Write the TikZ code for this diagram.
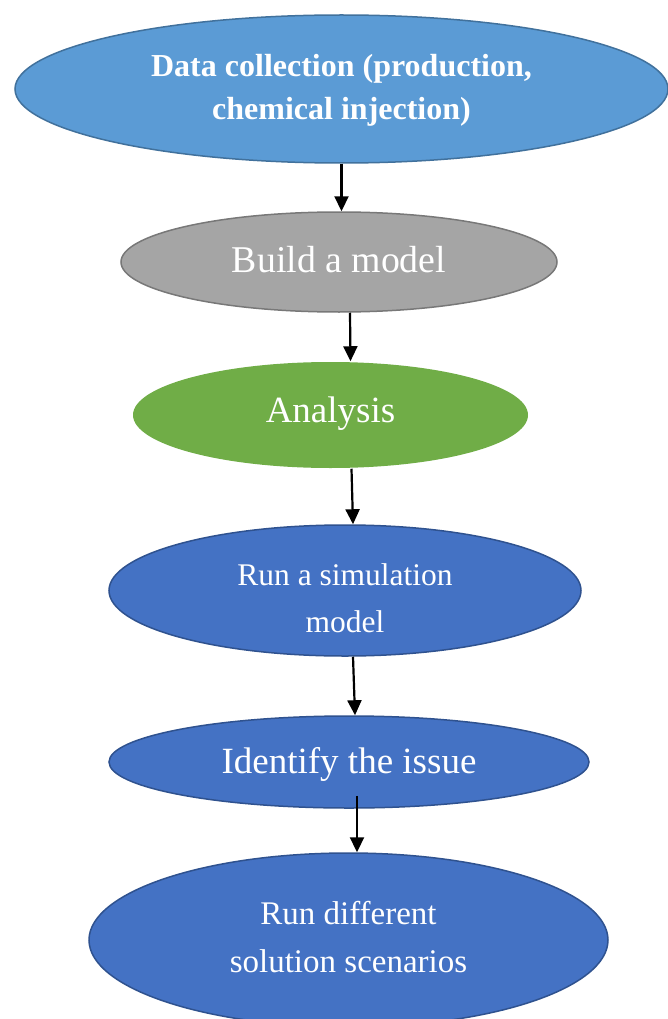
\documentclass[tikz,border=0pt]{standalone}
\usepackage{fontspec}
\setmainfont{Liberation Serif}
\usetikzlibrary{arrows.meta, shapes.geometric}

\definecolor{lightblue}{HTML}{5B9BD5}
\definecolor{lightblueline}{HTML}{41719C}
\definecolor{greyfill}{HTML}{A5A5A5}
\definecolor{greyline}{HTML}{787878}
\definecolor{greenfill}{HTML}{70AD47}
\definecolor{bluefill}{HTML}{4472C4}
\definecolor{blueline}{HTML}{2F528F}

% a text line of no height, moved down by #1
\newcommand{\dropline}[2]{\raisebox{-#1}[0pt][0pt]{#2}}

\begin{document}
\begin{tikzpicture}[
  x=1pt, y=-1pt,
  stage/.style={ellipse, inner sep=0pt, align=center, text=white,
                line width=1.5pt},
  arrow/.style={-{Triangle[length=15pt, width=14pt]}, line width=2.2pt},
]
  \useasboundingbox (0,0) rectangle (667,1019);
  \node[stage, fill=lightblue, draw=lightblueline,
        minimum width=653pt, minimum height=148pt,
        font=\fontsize{32}{43}\selectfont\bfseries] (data) at (341.5,89)
        {\dropline{9.5pt}{Data collection (production,}\\\dropline{9.5pt}{chemical injection)}};
  \node[stage, fill=greyfill, draw=greyline,
        minimum width=436pt, minimum height=100pt,
        font=\fontsize{37.8}{44}\selectfont] (build) at (339,262)
        {\dropline{10pt}{Build a model}};
  \draw[arrow] (data.south) -- (data.south |- build.north);
  \node[stage, fill=greenfill,
        minimum width=395pt, minimum height=106pt,
        font=\fontsize{37}{42}\selectfont] (ana) at (330.5,415)
        {\dropline{7.5pt}{Analysis}};
  \draw[arrow] ([xshift=11pt]build.south) -- ([xshift=20pt]ana.north);
  \node[stage, fill=bluefill, draw=blueline,
        minimum width=472pt, minimum height=131pt,
        font=\fontsize{31.5}{47}\selectfont] (sim) at (345,590.5)
        {\dropline{18pt}{Run a simulation}\\\dropline{18pt}{model}};
  \draw[arrow] ([xshift=21pt]ana.south) -- ([xshift=8pt]sim.north);
  \node[stage, fill=bluefill, draw=blueline,
        minimum width=480pt, minimum height=92pt,
        font=\fontsize{37}{42}\selectfont] (issue) at (349,762)
        {\dropline{11pt}{Identify the issue}};
  \draw[arrow] ([xshift=8pt]sim.south) -- ([xshift=6pt]issue.north);
  \node[stage, fill=bluefill, draw=blueline,
        minimum width=519pt, minimum height=174pt,
        font=\fontsize{33}{48}\selectfont] (scen) at (348.5,940)
        {\dropline{8pt}{Run different}\\\dropline{8pt}{solution scenarios}};
  \draw[arrow] ([xshift=8pt,yshift=13pt]issue.south) -- ([xshift=8.5pt]scen.north);
\end{tikzpicture}
\end{document}
